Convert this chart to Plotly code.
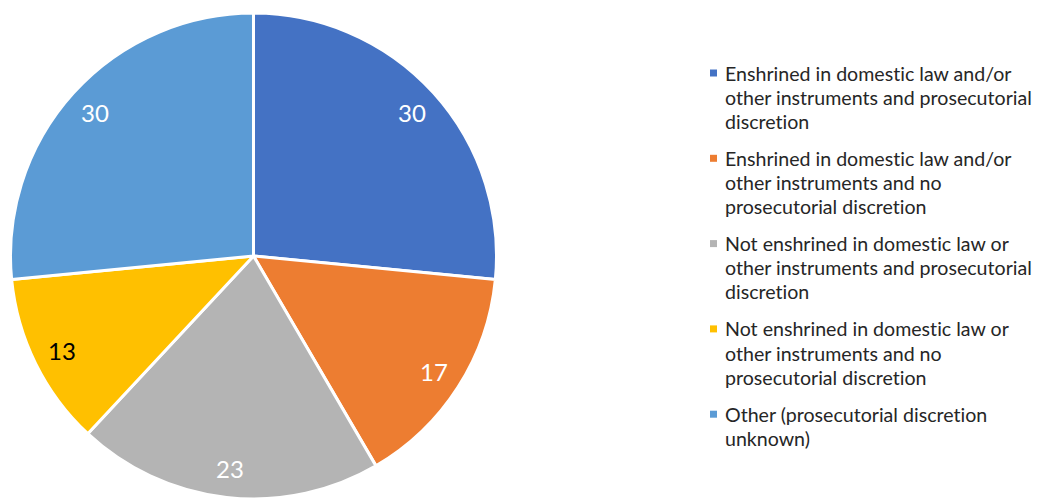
import math
import plotly.graph_objects as go

# Data
categories = [
    "Enshrined in domestic law and/or<br>other instruments and prosecutorial<br>discretion",
    "Enshrined in domestic law and/or<br>other instruments and no<br>prosecutorial discretion",
    "Not enshrined in domestic law or<br>other instruments and prosecutorial<br>discretion",
    "Not enshrined in domestic law or<br>other instruments and no<br>prosecutorial discretion",
    "Other (prosecutorial discretion<br>unknown)",
]
values = [30, 17, 23, 13, 30]

# Styling
colors = ["#4472C4", "#ED7D31", "#B4B4B4", "#FFC000", "#5B9BD5"]
label_colors = ["white", "white", "white", "black", "white"]
FONT = "Lato"
W, H = 1041, 499

# Pie geometry (pixels)
cx, cy_top, R = 253.5, 256.0, 243.0
cy = H - cy_top  # from bottom
dom_x = [(cx - R) / W, (cx + R) / W]
dom_y = [(cy - R) / H, (cy + R) / H]

fig = go.Figure(
    go.Pie(
        labels=[c.replace("<br>", " ") for c in categories],
        values=values,
        sort=False,
        direction="clockwise",
        rotation=0,
        marker=dict(colors=colors, line=dict(color="white", width=3)),
        textinfo="none",
        hoverinfo="label+value",
        showlegend=False,
        domain=dict(x=dom_x, y=dom_y),
    )
)

annotations = []
shapes = []

# Value labels placed along each slice's bisector
total = sum(values)
cum = 0
label_r = 0.88 * R
for v, tc in zip(values, label_colors):
    mid = 2 * math.pi * (cum + v / 2) / total
    cum += v
    px = cx + label_r * math.sin(mid)
    py = cy + label_r * math.cos(mid)
    annotations.append(dict(
        x=px / W, y=py / H, xref="paper", yref="paper",
        text=str(v), showarrow=False, xanchor="center", yanchor="middle",
        font=dict(family=FONT, size=24, color=tc),
    ))

# Legend drawn manually: small squares + wrapped text, one annotation per line
leg_marker_x = 713.5
leg_text_x = 724
first_line_y = 73
item_step = 85.3
line_h = 24.2
msize = 7
for i, (name, col) in enumerate(zip(categories, colors)):
    yc = first_line_y + item_step * i
    shapes.append(dict(
        type="rect", xref="paper", yref="paper",
        x0=(leg_marker_x - msize / 2) / W, x1=(leg_marker_x + msize / 2) / W,
        y0=(H - yc - msize / 2) / H, y1=(H - yc + msize / 2) / H,
        fillcolor=col, line=dict(width=0),
    ))
    for j, line in enumerate(name.split("<br>")):
        # zero-width non-joiner keeps "t" and "i" as separate glyphs
        line = line.replace("ti", "t\u200ci")
        annotations.append(dict(
            x=leg_text_x / W, y=(H - (yc + j * line_h)) / H,
            xref="paper", yref="paper", text=line, showarrow=False,
            xanchor="left", yanchor="middle", align="left", borderpad=0,
            font=dict(family=FONT, size=19.6, color="#262626"),
        ))

fig.update_layout(
    width=W, height=H,
    margin=dict(l=0, r=0, t=0, b=0),
    paper_bgcolor="white", plot_bgcolor="white",
    annotations=annotations, shapes=shapes,
)

fig.write_html("out.html")
